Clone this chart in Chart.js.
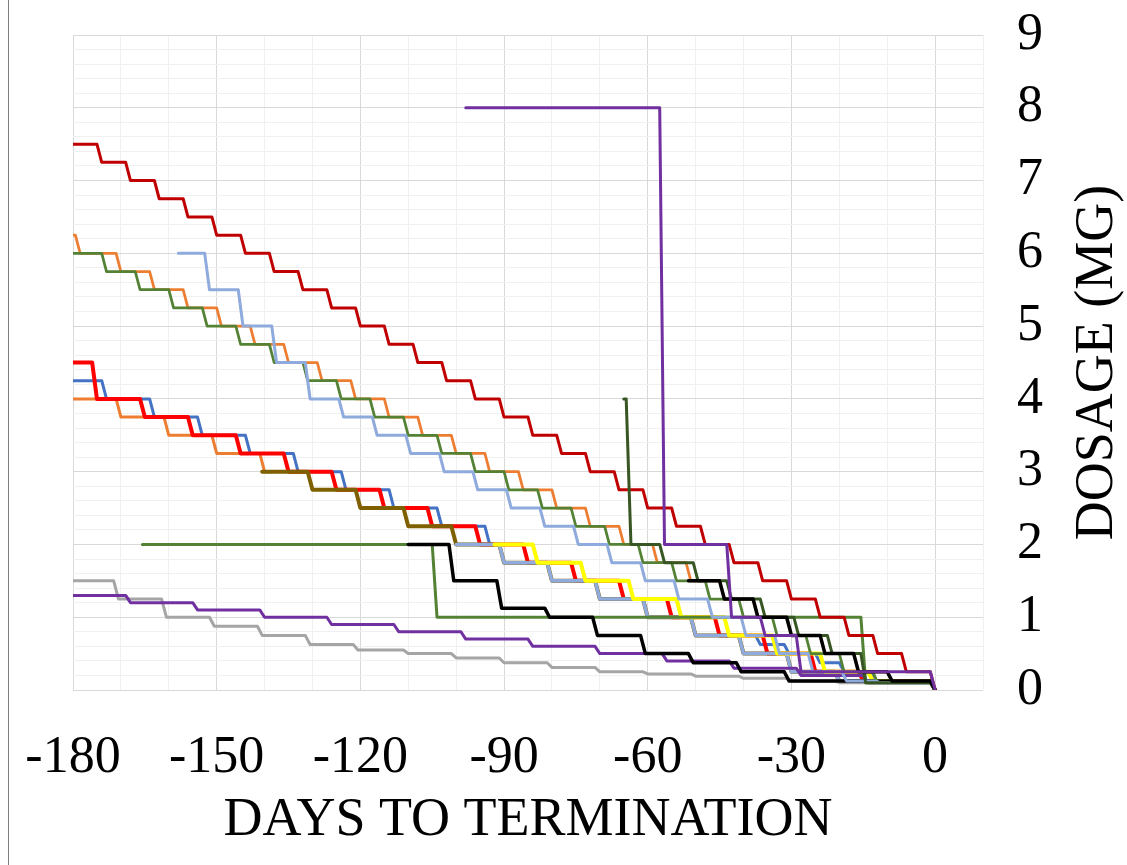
<!DOCTYPE html>
<html>
<head>
<meta charset="utf-8">
<script src="https://cdn.jsdelivr.net/npm/chart.js@4.4.1/dist/chart.umd.min.js"></script>
<style>
html,body{margin:0;padding:0;background:#fff;}
canvas{display:block;}
</style>
</head>
<body>
<canvas id="c" width="1127" height="865"></canvas>
<script>
// ---- axis text ----
const xTitle = 'DAYS TO TERMINATION';
const yTitle = 'DOSAGE (MG)';
const xTickLabels = [-180, -150, -120, -90, -60, -30, 0];
const yTickLabels = [0, 1, 2, 3, 4, 5, 6, 7, 8, 9];

// ---- series (day where each dose level starts, dose in mg) ----
const orangeLowDays = [-180, -170.5, -160.5, -150.5, -140.5, -139];
const orangeLowDose = [4.0, 3.75, 3.5, 3.25, 3.0, 3.0];

const blueDays = [-180, -173.5, -163.5, -153.5, -143.5, -133.5, -123.5, -113.5, -103.5, -93.5, -83.5, -73.5, -63.5, -53.5, -43.5, -37, -31, -24.5, -19.5, -13, 0];
const blueDose = [4.25, 4.0, 3.75, 3.5, 3.25, 3.0, 2.75, 2.5, 2.25, 2.0, 1.75, 1.5, 1.25, 1.0, 0.75, 0.625, 0.5, 0.375, 0.25, 0.125, 0];

const redDays = [-180, -175.5, -165.5, -155.5, -145.5, -135.5, -125.5, -115.5, -105.5, -95.5, -85.5, -75.5, -65.5, -55.5, -45.5, -35.5, -25.5, -15.5, 0];
const redDose = [4.5, 4.0, 3.75, 3.5, 3.25, 3.0, 2.75, 2.5, 2.25, 2.0, 1.75, 1.5, 1.25, 1.0, 0.75, 0.5, 0.25, 0.125, 0];

const oliveDays = [-140.5, -130.5, -120.5, -110.5, -100.5, -90.5, -80.5, -70.5, -60.5, -50.5, -40.5, -30.5, -20.5, 0];
const oliveDose = [3.0, 2.75, 2.5, 2.25, 2.0, 1.75, 1.5, 1.25, 1.0, 0.75, 0.5, 0.25, 0.125, 0];

const lightBlueLowDays = [-100, -90.5, -80.5, -70.5, -60.5, -50.5, -40.5, -30.5, -20.5, 0];
const lightBlueLowDose = [2.0, 1.75, 1.5, 1.25, 1.0, 0.75, 0.5, 0.25, 0.125, 0];

const yellowDays = [-92, -83.5, -73.5, -63.5, -53.5, -43.5, -33.5, -23.5, -13.5, 0];
const yellowDose = [2.0, 1.75, 1.5, 1.25, 1.0, 0.75, 0.5, 0.25, 0.125, 0];

const grayDays = [-180, -171, -161, -151, -141, -131, -121, -110.5, -100.5, -90.5, -80.5, -70.5, -60.5, -50.5, -40.5, -30.5, -20.5, 0];
const grayDose = [1.5, 1.25, 1.0, 0.875, 0.75, 0.625, 0.55, 0.5, 0.44, 0.375, 0.31, 0.25, 0.22, 0.19, 0.16, 0.125, 0.1, 0];

const purpleLowDays = [-180, -168.5, -154.5, -140.5, -126.5, -112.5, -98.5, -84.5, -70.5, -56.5, -42.5, -28.5, -14.5, 0];
const purpleLowDose = [1.3, 1.2, 1.1, 1.0, 0.9, 0.8, 0.7, 0.6, 0.5, 0.4, 0.3, 0.2, 0.1, 0];

const greenFlatDays = [-165.5, -104.5, -15, 0];
const greenFlatDose = [2.0, 1.0, 0.1, 0];

const blackDays = [-110, -101, -91, -81, -71, -61, -51, -41, -31, 0];
const blackDose = [2.0, 1.5, 1.125, 1.0, 0.75, 0.5, 0.375, 0.25, 0.125, 0];

const orangeUpDays = [-180, -179, -170.5, -163.5, -156.5, -149.5, -142.5, -135.5, -128.5, -121.5, -114.5, -107.5, -100.5, -93.5, -86.5, -79.5, -72.5, -65.5, -58.5, -51.5, -44.5, -37.5, -30.5, -23.5, -16.5, -9.5, 0];
const orangeUpDose = [6.25, 6.0, 5.75, 5.5, 5.25, 5.0, 4.75, 4.5, 4.25, 4.0, 3.75, 3.5, 3.25, 3.0, 2.75, 2.5, 2.25, 2.0, 1.75, 1.5, 1.25, 1.0, 0.75, 0.5, 0.25, 0.125, 0];

const greenUpDays = [-180, -173.5, -166.5, -159.5, -152.5, -145.5, -138.5, -131.5, -124.5, -117.5, -110.5, -103.5, -96.5, -89.5, -82.5, -75.5, -68.5, -61.5, -54.5, -47.5, -40.5, -33.5, -26.5, -19.5, -12.5, 0];
const greenUpDose = [6.0, 5.75, 5.5, 5.25, 5.0, 4.75, 4.5, 4.25, 4.0, 3.75, 3.5, 3.25, 3.0, 2.75, 2.5, 2.25, 2.0, 1.75, 1.5, 1.25, 1.0, 0.75, 0.5, 0.25, 0.1, 0];

const lightBlueUpDays = [-158, -152, -145, -138, -131, -124, -117, -110, -103, -96, -89, -82, -75, -68, -61, -54, -47, -40, -33, -26, -19, -12, 0];
const lightBlueUpDose = [6.0, 5.5, 5.0, 4.5, 4.0, 3.75, 3.5, 3.25, 3.0, 2.75, 2.5, 2.25, 2.0, 1.75, 1.5, 1.25, 1.0, 0.75, 0.5, 0.25, 0.125, 0.1, 0];

const darkRedDays = [-180, -174.5, -168.5, -162.5, -156.5, -150.5, -144.5, -138.5, -132.5, -126.5, -120.5, -114.5, -108.5, -102.5, -96.5, -90.5, -84.5, -78.5, -72.5, -66.5, -60.5, -54.5, -48.5, -42.5, -36.5, -30.5, -24.5, -18.5, -12.5, -6.5, 0];
const darkRedDose = [7.5, 7.25, 7.0, 6.75, 6.5, 6.25, 6.0, 5.75, 5.5, 5.25, 5.0, 4.75, 4.5, 4.25, 4.0, 3.75, 3.5, 3.25, 3.0, 2.75, 2.5, 2.25, 2.0, 1.75, 1.5, 1.25, 1.0, 0.75, 0.5, 0.25, 0];

const darkGreenDays = [-65, -64, -57, -50, -43, -36, -29, -22, -15, 0];
const darkGreenDose = [4.0, 2.0, 1.75, 1.5, 1.25, 1.0, 0.75, 0.5, 0.1, 0];

const black2Days = [-51.5, -44.5, -37.5, -30.5, -23.5, -16.5, -9.5, 0];
const black2Dose = [1.5, 1.25, 1.0, 0.75, 0.5, 0.25, 0.125, 0];

const purpleUpDays = [-98, -57, -43, -36, -28.5, 0];
const purpleUpDose = [8.0, 2.0, 1.0, 0.75, 0.25, 0];

// drawing order: first = bottom, last = top
const series = [
  {label: 'Orange (low)', days: orangeLowDays, dose: orangeLowDose, color: '#ED7D31', width: 3},
  {label: 'Blue', days: blueDays, dose: blueDose, color: '#4472C4', width: 3},
  {label: 'Red', days: redDays, dose: redDose, color: '#FF0000', width: 4},
  {label: 'Olive', days: oliveDays, dose: oliveDose, color: '#7F6000', width: 4},
  {label: 'Light blue (low)', days: lightBlueLowDays, dose: lightBlueLowDose, color: '#8FAADC', width: 3.5},
  {label: 'Yellow', days: yellowDays, dose: yellowDose, color: '#FFFF00', width: 4},
  {label: 'Gray', days: grayDays, dose: grayDose, color: '#A5A5A5', width: 3},
  {label: 'Purple (low)', days: purpleLowDays, dose: purpleLowDose, color: '#7030A0', width: 3},
  {label: 'Green (flat)', days: greenFlatDays, dose: greenFlatDose, color: '#548235', width: 3},
  {label: 'Black', days: blackDays, dose: blackDose, color: '#000000', width: 3.5},
  {label: 'Orange (up)', days: orangeUpDays, dose: orangeUpDose, color: '#ED7D31', width: 2.75},
  {label: 'Green (up)', days: greenUpDays, dose: greenUpDose, color: '#548235', width: 2.75},
  {label: 'Light blue (up)', days: lightBlueUpDays, dose: lightBlueUpDose, color: '#8FAADC', width: 3},
  {label: 'Dark red', days: darkRedDays, dose: darkRedDose, color: '#C00000', width: 3},
  {label: 'Dark green', days: darkGreenDays, dose: darkGreenDose, color: '#375623', width: 3},
  {label: 'Black 2', days: black2Days, dose: black2Dose, color: '#000000', width: 3.5},
  {label: 'Purple (up)', days: purpleUpDays, dose: purpleUpDose, color: '#7030A0', width: 3}
];

const FONT = '"Liberation Serif", "Times New Roman", serif';

// each dose change is drawn as a one-day transition (old level on the last day, new level on the next)
function stepPoints(days, dose) {
  const pts = [{x: days[0], y: dose[0]}];
  for (let k = 1; k < days.length; k++) {
    const x2 = Math.min(days[k] + 0.5, 0);
    pts.push({x: x2 - 1, y: dose[k - 1]});
    pts.push({x: x2, y: dose[k]});
  }
  return pts;
}

const datasets = series.map((s, i) => ({
  label: s.label,
  data: stepPoints(s.days, s.dose),
  borderColor: s.color,
  backgroundColor: s.color,
  borderWidth: s.width,
  pointRadius: 0,
  tension: 0,
  fill: false,
  order: series.length - i,
  borderJoinStyle: 'round',
  borderCapStyle: 'round'
}));

const isWhole = v => Math.abs(v - Math.round(v)) < 1e-6;

const decor = {
  id: 'decor',
  beforeDraw(chart) {
    const ctx = chart.ctx;
    ctx.save();
    ctx.fillStyle = '#ffffff';
    ctx.fillRect(0, 0, chart.width, chart.height);
    ctx.fillStyle = '#7f7f7f';
    ctx.fillRect(8, 0, 1, chart.height);
    ctx.restore();
  },
  afterDraw(chart) {
    const ctx = chart.ctx;
    const area = chart.chartArea;
    ctx.save();
    ctx.translate(1098, (area.top + area.bottom) / 2);
    ctx.rotate(-Math.PI / 2);
    ctx.font = '54px ' + FONT;
    ctx.fillStyle = '#000';
    ctx.textAlign = 'center';
    ctx.textBaseline = 'middle';
    ctx.fillText(yTitle, 0, 0);
    ctx.restore();
  }
};

new Chart(document.getElementById('c'), {
  type: 'line',
  data: {datasets},
  plugins: [decor],
  options: {
    responsive: false,
    animation: false,
    devicePixelRatio: 1,
    layout: {padding: {left: 73, top: 35, right: 0, bottom: 0}},
    plugins: {legend: {display: false}, tooltip: {enabled: false}},
    scales: {
      x: {
        type: 'linear',
        min: -180,
        max: 10,
        afterFit: s => { s.height = 175; },
        ticks: {
          stepSize: 10,
          autoSkip: false,
          maxRotation: 0,
          padding: 0,
          color: '#000',
          font: {family: FONT, size: 52},
          callback: v => xTickLabels.includes(v) ? String(v) : ''
        },
        grid: {
          drawTicks: true,
          tickLength: 37,
          tickColor: 'rgba(0,0,0,0)',
          lineWidth: 1,
          color: c => (c.tick && c.tick.value % 30 === 0) ? '#D9D9D9' : '#F0F0F0'
        },
        border: {display: false},
        title: {
          display: true,
          text: xTitle,
          color: '#000',
          font: {family: FONT, size: 54},
          padding: {top: 0, bottom: 12}
        }
      },
      y: {
        position: 'right',
        min: 0,
        max: 9,
        afterFit: s => { s.width = 144; },
        ticks: {
          stepSize: 0.2,
          autoSkip: false,
          padding: 0,
          color: '#000',
          font: {family: FONT, size: 52},
          callback: v => (isWhole(v) && yTickLabels.includes(Math.round(v))) ? String(Math.round(v)) : ''
        },
        grid: {
          drawTicks: true,
          tickLength: 34,
          tickColor: 'rgba(0,0,0,0)',
          lineWidth: 1,
          color: c => (c.tick && isWhole(c.tick.value)) ? '#D9D9D9' : '#F0F0F0'
        },
        border: {display: false}
      }
    }
  }
});
</script>
</body>
</html>
